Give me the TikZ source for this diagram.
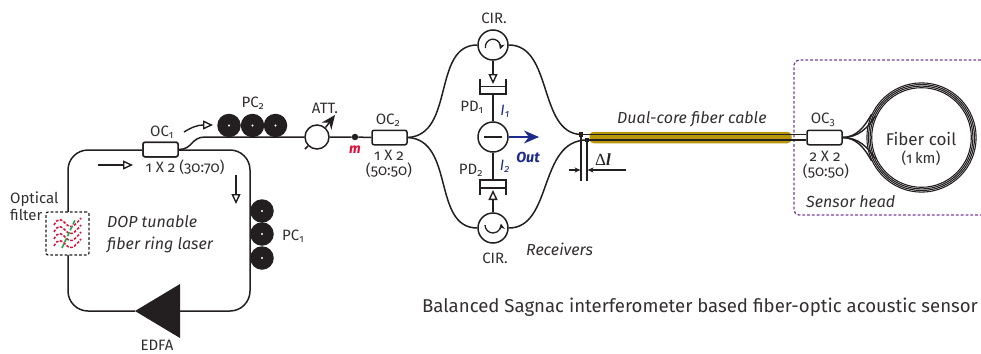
\documentclass[tikz,border=0pt]{standalone}
\usepackage{fontspec}
\setmainfont[Numbers=OldStyle]{Fira Sans}
\newfontfamily\dlfont{Liberation Serif}
\usetikzlibrary{arrows.meta,calc}
\definecolor{ink}{HTML}{231F20}
\definecolor{txt}{HTML}{332F30}
\definecolor{gold}{HTML}{B8960C}
\definecolor{navy}{HTML}{1E2A8C}
\definecolor{plum}{HTML}{7B3F9E}
\definecolor{redm}{HTML}{E0103A}
\definecolor{greenf}{HTML}{1FA84A}
\tikzset{
  fib/.style={draw=ink,line width=1.5pt},
  coupler/.style={draw=ink,line width=1.5pt,fill=white,rounded corners=2pt,minimum width=35pt,minimum height=14.5pt,inner sep=0pt},
  roller/.style={circle,fill=ink,minimum size=23.5pt,inner sep=0pt},
  ringcirc/.style={circle,draw=ink,line width=1.5pt,fill=white,minimum size=30pt,inner sep=0pt},
  lab/.style={text=txt,font=\fontsize{15}{16}\selectfont,inner sep=0pt,align=center},
  ilab/.style={text=txt,font=\fontsize{16}{22}\selectfont\itshape,inner sep=0pt,align=left},
  openarrow/.style={draw=ink,line width=1.4pt,-{Triangle[open,length=10pt,width=9pt,line width=1.4pt]}},
  bracketline/.style={draw=ink,line width=1.5pt,line cap=butt},
  dimarrow/.style={draw=ink,line width=1.1pt,-{Stealth[length=6pt,width=5pt]}},
  reddash/.style={draw=redm,line width=1.5pt,dash pattern=on 2.6pt off 1.6pt},
}
\begin{document}
\begin{tikzpicture}[x=1pt,y=-1pt]
\useasboundingbox (0,0) rectangle (981,353);
% sensor head box
\coordinate (shtr) at (981,60);
\coordinate (shbr) at (981,215);
\draw[plum,line width=1.3pt,dash pattern=on 2.8pt off 2pt,rounded corners=5pt] (shtr) -- (794,60) -- (794,215) -- (shbr);
% ring nodes
\node[coupler,minimum width=35pt] (oc1) at (160.5,149.5) {};
\node[minimum size=0pt,inner sep=0pt] (edfatip) at (135,311) {};
\draw[fib,rounded corners=20pt] (oc1.west |- 0,150) -- (68,150) -- (68,311) -- (edfatip.center);
\draw[fib,rounded corners=20pt] (oc1.east |- 0,150) -- (250,150) -- (250,311) -- (180,311);
\fill[ink] (135,311) -- (180,284) -- (180,338) -- cycle;
% filter
\node[draw=ink,fill=white,line width=1.3pt,dash pattern=on 2.8pt off 2pt,rounded corners=2pt,minimum width=43pt,minimum height=43pt,inner sep=0pt] (filter) at (67.5,233.5) {};
\foreach \yy in {222,229,236,243}{
  \draw[reddash] (54,\yy+3) .. controls (58,\yy-5) and (62,\yy-3) .. (66,\yy+2) .. controls (70,\yy+7) and (74,\yy+5) .. (81,\yy-4);
}
\draw[greenf,line width=1.6pt,dash pattern=on 4.5pt off 2pt] (62,248) -- (75,220);
% output from OC1 with PC2
\node[ringcirc,minimum size=24pt] (att) at (317,137) {};
\node[circle,fill=ink,minimum size=6.5pt,inner sep=0pt] (mdot) at (355,137) {};
\node[coupler] (oc2) at (389.5,137.5) {};
\draw[fib] (oc1.east) .. controls +(14,0) and +(-14,0) .. (205,137) -- (att.west);
\node[coupler] (oc1b) at (160.5,149.5) {};
\draw[fib] (att.east) -- (mdot) -- (oc2.west);
\foreach \n/\xx/\yy in {pb/229/125.5,pc/252.5/125.5,pd/275.5/125.5,qa/262/211,qb/262/234,qc/262/258}{
  \node[roller] (\n) at (\xx,\yy) {};
  \fill[white] (\n.center) circle (1.1pt);
}
% small arrows
\coordinate (a1s) at (98,165); \coordinate (a1e) at (133,165);
\draw[openarrow] (a1s) -- (a1e);
\coordinate (a2s) at (236,175); \coordinate (a2e) at (236,204);
\draw[openarrow] (a2s) -- (a2e);
\coordinate (a3s) at (184,132); \coordinate (a3e) at (213,125);
\draw[openarrow] (a3s) .. controls (192,127) and (198,125) .. (a3e);
% attenuator decoration
\coordinate (attt) at (335,115);
\draw[ink,line width=1.5pt] (att.225) -- ($(att.225)+(-3,3)$);
\draw[ink,line width=1.5pt,-{Stealth[length=14pt,width=12pt]}] (att.48) -- (attt);
% receivers
\node[ringcirc] (cira) at (493,45) {};
\node[ringcirc] (cirb) at (493,228) {};
\node[ringcirc] (pdm) at (493,137) {};
\draw[ink,line width=1.7pt] ($(pdm.center)+(-9,0)$) -- ($(pdm.center)+(9,0)$);
\draw[ink,line width=1.3pt,-{Stealth[length=6pt,width=6pt]}] (485.5,48) arc[start angle=190,end angle=-20,radius=7.5pt];
\draw[ink,line width=1.3pt,-{Stealth[length=6pt,width=6pt]}] (485,225) arc[start angle=180,end angle=370,radius=8pt];
\coordinate (pda) at (493,94);
\coordinate (pdb) at (493,180);
\draw[bracketline] (480,79) -- (480,94) -- (506,94) -- (506,79);
\draw[bracketline] (480,86.5) -- (506,86.5);
\draw[bracketline] (480,195) -- (480,180) -- (506,180) -- (506,195);
\draw[bracketline] (480,188) -- (506,188);
\draw[fib] (pda) -- (pdm.north);
\draw[fib] (pdm.south) -- (pdb);
\coordinate (pdah) at (493,84);
\coordinate (pdbh) at (493,190);
\draw[openarrow] (cira.south) -- (pdah);
\draw[openarrow] (cirb.north) -- (pdbh);
\coordinate (outend) at (539,137);
\draw[navy,line width=1.5pt,-{Stealth[length=15pt,width=13pt]}] (pdm.east) -- (outend);
% cable
\node[fill=gold,rounded corners=4pt,minimum width=202pt,minimum height=11.5pt,inner sep=0pt] (cable) at (690.5,137.5) {};
\node[fill=ink,minimum size=4.5pt,inner sep=0pt] (ja) at (581,134.5) {};
\node[fill=ink,minimum size=4.5pt,inner sep=0pt] (jb) at (587,140) {};
\node[coupler] (oc3) at (824.5,137.5) {};
\draw[fib] (oc2.east) .. controls (455,135) and (432,45) .. (cira.west);
\draw[fib] (oc2.east) .. controls (455,140) and (432,228) .. (cirb.west);
\draw[fib] (cira.east) .. controls (553,45) and (538,133) .. (ja.center);
\draw[fib] (cirb.east) .. controls (553,228) and (538,140) .. (jb.center);
\draw[ink,line width=1.3pt] (ja.center) -- (oc3.west |- ja.center);
\draw[ink,line width=1.3pt] (jb.center) -- (oc3.west |- jb.center);
\coordinate (jal) at (581,181); \coordinate (jbl) at (587,181);
\draw[ink,line width=1.2pt] (ja.center) -- (jal);
\draw[ink,line width=1.2pt] (jb.center) -- (jbl);
\coordinate (da) at (569,170); \coordinate (db) at (626,170);
\draw[dimarrow] (da) -- (580.5,170);
\draw[dimarrow] (db) -- (587.5,170);
% coil
\node[circle,minimum size=109pt,inner sep=0pt] (coil) at (921.5,137.5) {};
\coordinate (tua) at (871.6,114); \coordinate (tub) at (875.2,116);
\coordinate (tda) at (871.6,161); \coordinate (tdb) at (875.2,159);
\draw[ink,line width=1.4pt] (oc3.east) .. controls (856,137) and (864,128) .. (tua);
\draw[ink,line width=1.4pt] (oc3.east) .. controls (858,137.5) and (868,128) .. (tub);
\draw[ink,line width=1.4pt] (oc3.east) .. controls (856,138) and (864,147) .. (tda);
\draw[ink,line width=1.4pt] (oc3.east) .. controls (858,137.5) and (868,147) .. (tdb);
\foreach \rr in {54.6,53,51.4,49.8}{
  \draw[ink,line width=1.1pt] (coil.center) circle (\rr pt);
}
% labels
\node[lab] (lpc2) at (253,103) {PC\textsubscript{2}};
\node[lab] (loc1) at (162,132) {OC\textsubscript{1}};
\node[lab] (l12a) at (185,167) {1 X 2 (30:70)};
\node[lab,align=left,anchor=west] (lfil) at (10,206.5) {Optical\\[1pt]filter};
\node[ilab] (ldop) at (107,234) [anchor=west] {DOP tunable\\fiber ring laser};
\node[lab,anchor=west] (lpc1) at (282,236) {PC\textsubscript{1}};
\node[lab] (ledfa) at (157,345) {EDFA};
\node[lab] (latt) at (325,108) {ATT.};
\node[text=redm,font=\fontsize{14}{14}\selectfont\bfseries\itshape,inner sep=0pt] (lm) at (355,150) {m};
\node[lab] (loc2) at (388,120) {OC\textsubscript{2}};
\node[lab] (l12b) at (389,155) {1 X 2};
\node[lab] (l55a) at (389,170) {(50:50)};
\node[lab] (lcira) at (494,18) {CIR.};
\node[lab] (lcirb) at (495,258) {CIR.};
\node[lab] (lpd1) at (472,107) {PD\textsubscript{1}};
\node[lab] (lpd2) at (471,170) {PD\textsubscript{2}};
\node[text=navy,font=\fontsize{15}{15}\selectfont\itshape,inner sep=0pt] (li1) at (505,111) {I\textsubscript{1}};
\node[text=navy,font=\fontsize{15}{15}\selectfont\itshape,inner sep=0pt] (li2) at (505,166) {I\textsubscript{2}};
\node[text=navy,font=\fontsize{14.5}{15}\selectfont\bfseries\itshape,inner sep=0pt] (lout) at (528,157) {Out};
\node[ilab,anchor=west] (lrec) at (526,249) {Receivers};
\node[text=ink,font=\fontsize{17}{17}\selectfont\dlfont,inner sep=0pt] (ldl) at (603,160) {Δ\bfseries\itshape l};
\node[ilab,anchor=west] (ldual) at (617,119) {Dual-core fiber cable};
\node[lab] (loc3) at (823,120) {OC\textsubscript{3}};
\node[lab] (l22) at (825,156) {2 X 2};
\node[lab] (l55b) at (826,171) {(50:50)};
\node[text=txt,font=\fontsize{17}{18}\selectfont,inner sep=0pt] (lcoil) at (921,139) {Fiber coil};
\node[lab] (lkm) at (921,158) {(1\,km)};
\node[ilab,anchor=west] (lsh) at (806,202) {Sensor head};
\node[text=txt,font=\fontsize{18.6}{20}\selectfont,inner sep=0pt] (ltitle) at (700,307) {Balanced Sagnac interferometer based fiber-optic acoustic sensor};
\end{tikzpicture}
\end{document}
